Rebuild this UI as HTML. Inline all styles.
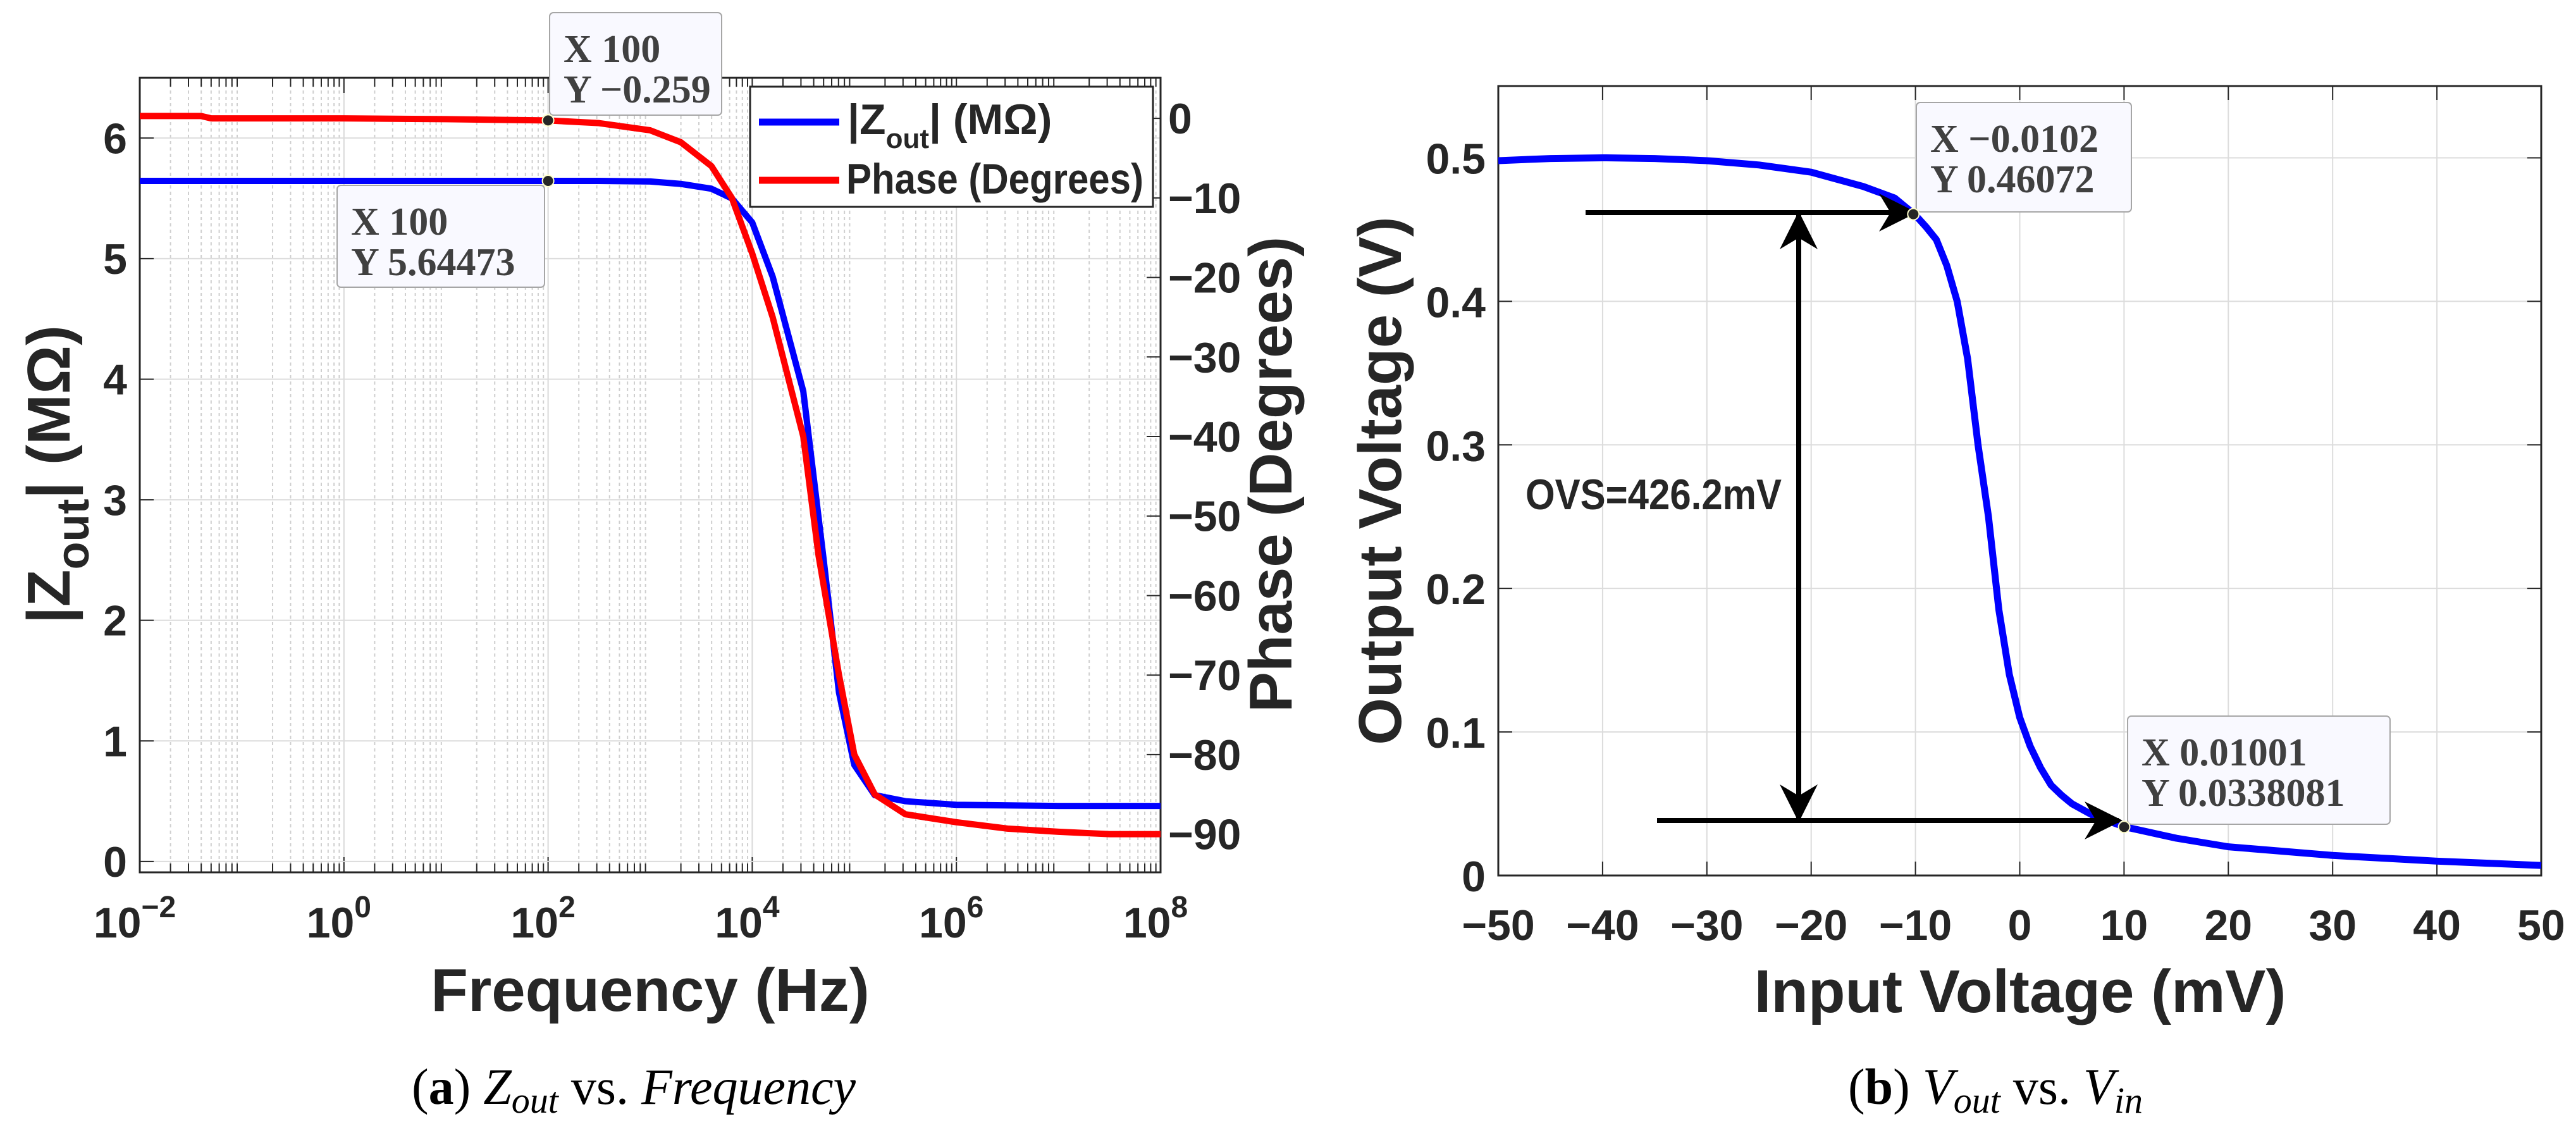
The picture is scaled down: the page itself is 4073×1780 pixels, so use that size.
<!DOCTYPE html>
<html><head><meta charset="utf-8">
<style>
html,body{margin:0;padding:0;background:#fff;}
svg{display:block;}
text{font-family:"Liberation Sans",sans-serif;}
.tk{font-weight:bold;font-size:68px;fill:#262626;}
.ttl{font-weight:bold;font-size:96px;fill:#262626;}
.dt{font-family:"Liberation Serif",serif;font-weight:bold;font-size:62px;fill:#404040;}
.cap{font-family:"Liberation Serif",serif;font-size:80px;fill:#000;}
</style></head>
<body>
<svg id="fig" width="4073" height="1780" viewBox="0 0 4073 1780" xmlns="http://www.w3.org/2000/svg">
<g id="left"></g>
<g id="right"></g>
</svg>
<script>
// ---- Chart (a) data ----
const freqExp = [-2,-1.4,-1,0,1,2,2.5,3,3.3,3.6,3.8,4,4.2,4.5,4.7,4.85,5,5.2,5.5,6,7,8];
const zoutVals = [5.645,5.645,5.645,5.645,5.645,5.645,5.645,5.64,5.62,5.58,5.5,5.3,4.85,3.9,2.5,1.4,0.8,0.55,0.5,0.47,0.46,0.46];
const phaseExp = [-2,-1.4,-1.3,0,1,2,2.5,3,3.3,3.6,3.8,4,4.2,4.5,4.65,4.85,5,5.2,5.5,6,6.5,7,7.5,8];
const phaseVals = [0.3,0.3,0,0,-0.1,-0.259,-0.6,-1.5,-3,-6,-10,-17,-25,-40,-55,-70,-80,-85,-87.5,-88.5,-89.3,-89.7,-90,-90];
const leftTicks = [0,1,2,3,4,5,6];
const rightTicks = [0,-10,-20,-30,-40,-50,-60,-70,-80,-90];
const xDecades = [-2,0,2,4,6,8];
// ---- Chart (b) data ----
const vinVals = [-50,-45,-40,-35,-30,-25,-20,-15,-12,-10,-9,-8,-7,-6,-5,-4,-3,-2,-1,0,1,2,3,4,5,6,7,10,15,20,30,40,50];
const voutVals = [0.498,0.4995,0.5,0.4995,0.498,0.495,0.49,0.48,0.472,0.46,0.452,0.443,0.425,0.40,0.36,0.30,0.25,0.185,0.14,0.11,0.09,0.075,0.063,0.056,0.05,0.046,0.042,0.034,0.026,0.02,0.014,0.01,0.007];
const vinTicks = [-50,-40,-30,-20,-10,0,10,20,30,40,50];
const voutTicks = [0,0.1,0.2,0.3,0.4,0.5];

const NS="http://www.w3.org/2000/svg";
function mk(parent,tag,attrs,txt){const e=document.createElementNS(NS,tag);for(const k in attrs)e.setAttribute(k,attrs[k]);if(txt!==undefined)e.textContent=txt;parent.appendChild(e);return e;}

// ===== Chart (a) =====
const L={x0:221,x1:1835,y0:123,y1:1379};
const lx=e=>L.x0+(e+2)/10*(L.x1-L.x0);
const ly=v=>L.y1-(v+0.09)/(6.59)*(L.y1-L.y0);
const ry=v=>L.y1-(v+94.8)/(99.9)*(L.y1-L.y0);
const gl=document.getElementById('left');
let e;
e=mk(gl,'rect',{x:L.x0,y:L.y0,width:L.x1-L.x0,height:L.y1-L.y0,fill:'#fff'});


for(let d=-2;d<8;d++){for(let m=2;m<10;m++){const x=lx(d+Math.log10(m));
 e=mk(gl,'line',{x1:x,x2:x,y1:L.y0,y2:L.y1,stroke:'#cfcfcf','stroke-width':2,'stroke-dasharray':'5,5'});
 
 
 mk(gl,'line',{x1:x,x2:x,y1:L.y1,y2:L.y1-14,stroke:'#262626','stroke-width':2});
 mk(gl,'line',{x1:x,x2:x,y1:L.y0,y2:L.y0+14,stroke:'#262626','stroke-width':2});
}}
for(const d of xDecades){const x=lx(d);
 e=mk(gl,'line',{x1:x,x2:x,y1:L.y0,y2:L.y1,stroke:'#d9d9d9','stroke-width':2});
 
 
 mk(gl,'line',{x1:x,x2:x,y1:L.y1,y2:L.y1-24,stroke:'#262626','stroke-width':2});
 mk(gl,'line',{x1:x,x2:x,y1:L.y0,y2:L.y0+24,stroke:'#262626','stroke-width':2});
 const t=mk(gl,'text',{x:x-8,y:1482,'text-anchor':'middle',class:'tk'});
 
 
 mk(t,'tspan',{},'10');
 mk(t,'tspan',{dy:-32,'font-size':'48'},d<0?'\u2212'+(-d):''+d);
}
for(const v of leftTicks){const y=ly(v);
 e=mk(gl,'line',{x1:L.x0,x2:L.x1,y1:y,y2:y,stroke:'#dcdcdc','stroke-width':2});
 
 
 mk(gl,'line',{x1:L.x0,x2:L.x0+22,y1:y,y2:y,stroke:'#262626','stroke-width':2});
 e=mk(gl,'text',{x:L.x0-20,y:y+24,'text-anchor':'end',class:'tk'},''+v);
 
 
}
for(const v of rightTicks){const y=ry(v);
 mk(gl,'line',{x1:L.x1,x2:L.x1-22,y1:y,y2:y,stroke:'#262626','stroke-width':2});
 e=mk(gl,'text',{x:L.x1+12,y:y+24,'text-anchor':'start',class:'tk'},v<0?'\u2212'+(-v):''+v);
 
 
}
e=mk(gl,'rect',{x:L.x0,y:L.y0,width:L.x1-L.x0,height:L.y1-L.y0,fill:'none',stroke:'#262626','stroke-width':3});


e=mk(gl,'polyline',{points:freqExp.map((f,i)=>lx(f)+','+ly(zoutVals[i])).join(' '),fill:'none',stroke:'#0000ff','stroke-width':10,'stroke-linejoin':'round'});


e=mk(gl,'polyline',{points:phaseExp.map((f,i)=>lx(f)+','+ry(phaseVals[i])).join(' '),fill:'none',stroke:'#ff0000','stroke-width':10,'stroke-linejoin':'round'});


function tip(g,x,y,w,h,l1,l2,name){const gg=mk(g,'g',{});
 
 
 mk(gg,'rect',{x:x,y:y,width:w,height:h,rx:6,fill:'#f9f9ff',stroke:'#a6a6a6','stroke-width':2});
 mk(gg,'text',{x:x+22,y:y+78,class:'dt'},l1);
 mk(gg,'text',{x:x+22,y:y+142,class:'dt'},l2);
}
tip(gl,869,20,272,162,'X 100','Y \u22120.259','datatip-phase');
tip(gl,533,293,328,161,'X 100','Y 5.64473','datatip-zout');
for(const [yy,nm] of [[ry(-0.259),'marker-phase'],[ly(5.64473),'marker-zout']]){
 e=mk(gl,'circle',{cx:lx(2),cy:yy,r:9,fill:'#262626',stroke:'#ffffcc','stroke-width':2});
 
 
}
const lg=mk(gl,'g',{});


mk(lg,'rect',{x:1186,y:137,width:637,height:190,fill:'#fff',stroke:'#262626','stroke-width':3});
mk(lg,'line',{x1:1200,x2:1327,y1:193,y2:193,stroke:'#0000ff','stroke-width':11});
mk(lg,'line',{x1:1200,x2:1327,y1:285,y2:285,stroke:'#ff0000','stroke-width':11});
let t=mk(lg,'text',{x:1340,y:212,class:'tk','font-size':'58'});
mk(t,'tspan',{},'|Z');mk(t,'tspan',{dy:22,'font-size':'44'},'out');mk(t,'tspan',{dy:-22},'| (M\u03a9)');
mk(lg,'text',{x:1338,y:306,class:'tk','font-size':'60',textLength:'470',lengthAdjust:'spacingAndGlyphs'},'Phase (Degrees)');
e=mk(gl,'text',{x:1028,y:1598,'text-anchor':'middle',class:'ttl'},'Frequency (Hz)');


t=mk(gl,'text',{x:0,y:0,'text-anchor':'middle',class:'ttl',transform:'translate(110,750) rotate(-90)'});


mk(t,'tspan',{},'|Z');mk(t,'tspan',{dy:30,'font-size':'72'},'out');mk(t,'tspan',{dy:-30},'| (M\u03a9)');
e=mk(gl,'text',{x:0,y:0,'text-anchor':'middle',class:'ttl',transform:'translate(2042,750) rotate(-90)'},'Phase (Degrees)');


t=mk(gl,'text',{x:1002,y:1745,'text-anchor':'middle',class:'cap'});


mk(t,'tspan',{},'(');mk(t,'tspan',{'font-weight':'bold'},'a');mk(t,'tspan',{},') ');
mk(t,'tspan',{'font-style':'italic'},'Z');mk(t,'tspan',{'font-style':'italic','font-size':'58',dy:14},'out');
mk(t,'tspan',{dy:-14},' vs. ');mk(t,'tspan',{'font-style':'italic'},'Frequency');

// ===== Chart (b) =====
const R={x0:2369,x1:4018,y0:136,y1:1384};
const bx=v=>R.x0+(v+50)/100*(R.x1-R.x0);
const by=v=>R.y1-v/0.55*(R.y1-R.y0);
const gr=document.getElementById('right');
for(const v of vinTicks){const x=bx(v);
 e=mk(gr,'line',{x1:x,x2:x,y1:R.y0,y2:R.y1,stroke:'#dcdcdc','stroke-width':2});
 
 
 mk(gr,'line',{x1:x,x2:x,y1:R.y1,y2:R.y1-22,stroke:'#262626','stroke-width':2});
 mk(gr,'line',{x1:x,x2:x,y1:R.y0,y2:R.y0+22,stroke:'#262626','stroke-width':2});
 e=mk(gr,'text',{x:x,y:1486,'text-anchor':'middle',class:'tk','font-size':'70'},v<0?'\u2212'+(-v):''+v);
 
 
}
for(const v of voutTicks){const y=by(v);
 e=mk(gr,'line',{x1:R.x0,x2:R.x1,y1:y,y2:y,stroke:'#dcdcdc','stroke-width':2});
 
 
 mk(gr,'line',{x1:R.x0,x2:R.x0+22,y1:y,y2:y,stroke:'#262626','stroke-width':2});
 mk(gr,'line',{x1:R.x1,x2:R.x1-22,y1:y,y2:y,stroke:'#262626','stroke-width':2});
 e=mk(gr,'text',{x:R.x0-20,y:y+25,'text-anchor':'end',class:'tk','font-size':'70'},v===0?'0':v.toFixed(1));
 
 
}
e=mk(gr,'rect',{x:R.x0,y:R.y0,width:R.x1-R.x0,height:R.y1-R.y0,fill:'none',stroke:'#262626','stroke-width':3});


e=mk(gr,'polyline',{points:vinVals.map((v,i)=>bx(v)+','+by(voutVals[i])).join(' '),fill:'none',stroke:'#0000ff','stroke-width':11,'stroke-linejoin':'round'});


mk(gr,'defs',{}).innerHTML='<marker id="ah" viewBox="0 0 10 10" refX="9" refY="5" markerWidth="60" markerHeight="60" markerUnits="userSpaceOnUse" orient="auto-start-reverse"><path d="M0,0 L10,5 L0,10 L3,5 z" fill="#000"/></marker>';
const arrows=[[2507,336,3025,336,'top-arrow',false],[2620,1297,3350,1297,'bottom-arrow',false],[2844,340,2844,1294,'ovs-arrow',true]];
for(const a of arrows){
 e=mk(gr,'line',{x1:a[0],y1:a[1],x2:a[2],y2:a[3],stroke:'#000','stroke-width':8,'marker-end':'url(#ah)'});
 if(a[5]) e.setAttribute('marker-start','url(#ah)');
 
 
}
e=mk(gr,'text',{x:2412,y:805,class:'tk','font-size':'56',fill:'#000',textLength:'405',lengthAdjust:'spacingAndGlyphs'},'OVS=426.2mV');


tip(gr,3030,162,340,173,'X \u22120.0102','Y 0.46072','datatip-high');
tip(gr,3364,1132,415,171,'X 0.01001','Y 0.0338081','datatip-low');
for(const [xv,yv,nm] of [[-10.2,0.46072,'marker-high'],[10.01,0.0338081,'marker-low']]){
 e=mk(gr,'circle',{cx:bx(xv),cy:by(yv),r:9,fill:'#262626',stroke:'#ffffcc','stroke-width':2});
 
 
}
e=mk(gr,'text',{x:3194,y:1600,'text-anchor':'middle',class:'ttl'},'Input Voltage (mV)');


e=mk(gr,'text',{x:0,y:0,'text-anchor':'middle',class:'ttl',transform:'translate(2215,760) rotate(-90)'},'Output Voltage (V)');


t=mk(gr,'text',{x:3155,y:1745,'text-anchor':'middle',class:'cap'});


mk(t,'tspan',{},'(');mk(t,'tspan',{'font-weight':'bold'},'b');mk(t,'tspan',{},') ');
mk(t,'tspan',{'font-style':'italic'},'V');mk(t,'tspan',{'font-style':'italic','font-size':'58',dy:14},'out');
mk(t,'tspan',{dy:-14},' vs. ');mk(t,'tspan',{'font-style':'italic'},'V');mk(t,'tspan',{'font-style':'italic','font-size':'58',dy:14},'in');
</script>
</body></html>
